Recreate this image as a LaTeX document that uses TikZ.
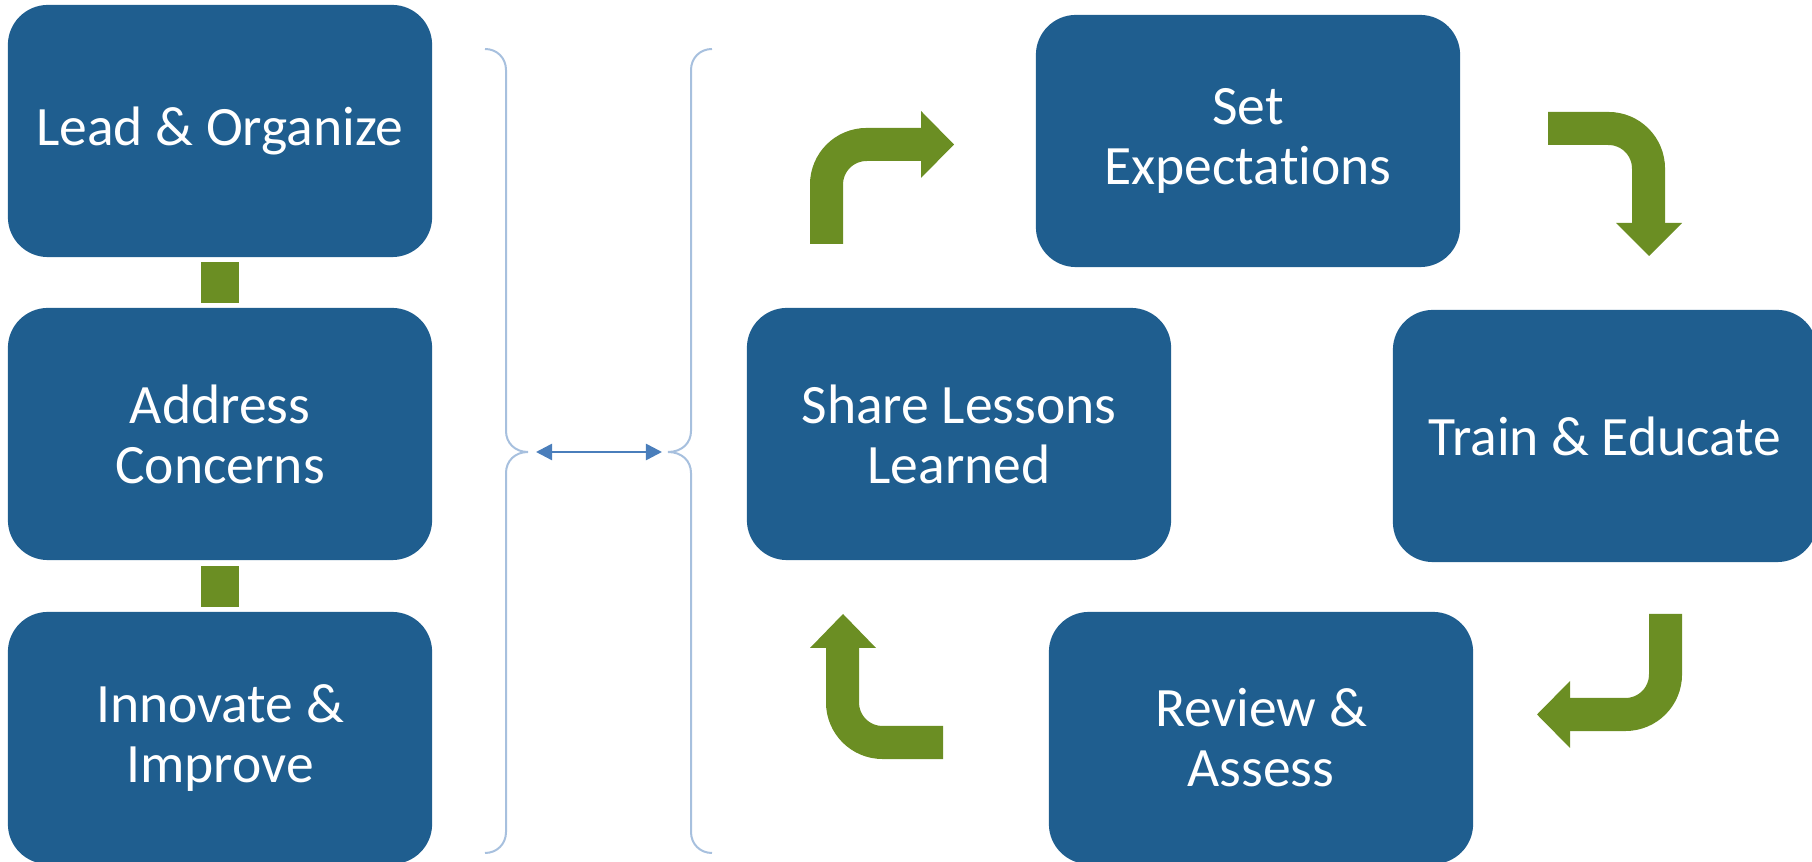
\documentclass[tikz,border=0pt]{standalone}
\usepackage{fontspec}
\setmainfont{Carlito}[Ligatures=CommonOff]
\usetikzlibrary{arrows.meta}
\definecolor{boxblue}{RGB}{31,94,143}
\definecolor{leafgreen}{RGB}{107,142,35}
\definecolor{bracecol}{RGB}{167,192,222}
\definecolor{linkblue}{RGB}{74,126,187}
\tikzset{
  stage/.style={fill=boxblue, rounded corners=0.4cm, minimum width=4.24cm, minimum height=2.52cm,
    inner sep=0pt, text=white, align=center, font=\fontsize{15.8}{17.1}\selectfont},
  joint/.style={fill=leafgreen, minimum width=0.38cm, minimum height=0.41cm, inner sep=0pt},
  turnarrow/.style={draw=leafgreen, line width=0.33cm, rounded corners=0.4cm},
  brace/.style={draw=bracecol, line width=0.02cm},
  linkarrow/.style={draw=linkblue, line width=0.025cm, {Triangle[length=0.16cm,width=0.16cm]}-{Triangle[length=0.16cm,width=0.16cm]}}
}
\begin{document}
\begin{tikzpicture}[x=0.01cm, y=-0.01cm]
\useasboundingbox (0,0) rectangle (1812,862);

% left column
\node[stage] (lead) at (220,131) {Lead \& Organize};
\node[stage] (address) at (220,434) {Address\\Concerns};
\node[stage] (innovate) at (220,738) {Innovate \&\\Improve};
\node[joint] (link1) at (220,282.5) {};
\node[joint] (link2) at (220,586.5) {};

% cycle
\node[stage] (expect) at (1248,141) {Set\\Expectations};
\node[stage] (train) at (1605,436) {Train \& Educate};
\node[stage] (review) at (1261,738) {Review \&\\Assess};
\node[stage] (share) at (959,434) {Share Lessons\\Learned};

\draw[turnarrow] (826.5,244) -- (826.5,144.5) -- (921,144.5); % share -> expect
\fill[leafgreen] (921,111) -- (954,144.5) -- (921,178) -- cycle;
\draw[turnarrow] (1548,128.5) -- (1648.5,128.5) -- (1648.5,223); % expect -> train
\fill[leafgreen] (1616,223) -- (1649,256) -- (1682,223) -- cycle;
\draw[turnarrow] (1665.5,614) -- (1665.5,714.5) -- (1570,714.5); % train -> review
\fill[leafgreen] (1570,681) -- (1537,714.5) -- (1570,748) -- cycle;
\draw[turnarrow] (943,742.5) -- (842.5,742.5) -- (842.5,648); % review -> share
\fill[leafgreen] (810,648) -- (843,614) -- (876,648) -- cycle;

% braces
\coordinate (ltip) at (528,452);
\coordinate (rtip) at (668,452);
\draw[brace] (485,49) .. controls (497,49) and (506,58) .. (506,70) -- (506,431)
  .. controls (506,443) and (515,452) .. (ltip) .. controls (515,452) and (506,461) .. (506,473)
  -- (506,832) .. controls (506,844) and (497,853) .. (485,853);
\draw[brace] (712,49) .. controls (700,49) and (691,58) .. (691,70) -- (691,431)
  .. controls (691,443) and (682,452) .. (rtip) .. controls (682,452) and (691,461) .. (691,473)
  -- (691,832) .. controls (691,844) and (700,853) .. (712,853);
\draw[linkarrow] ([xshift=0.08cm]ltip) -- ([xshift=-0.06cm]rtip);
\end{tikzpicture}
\end{document}
